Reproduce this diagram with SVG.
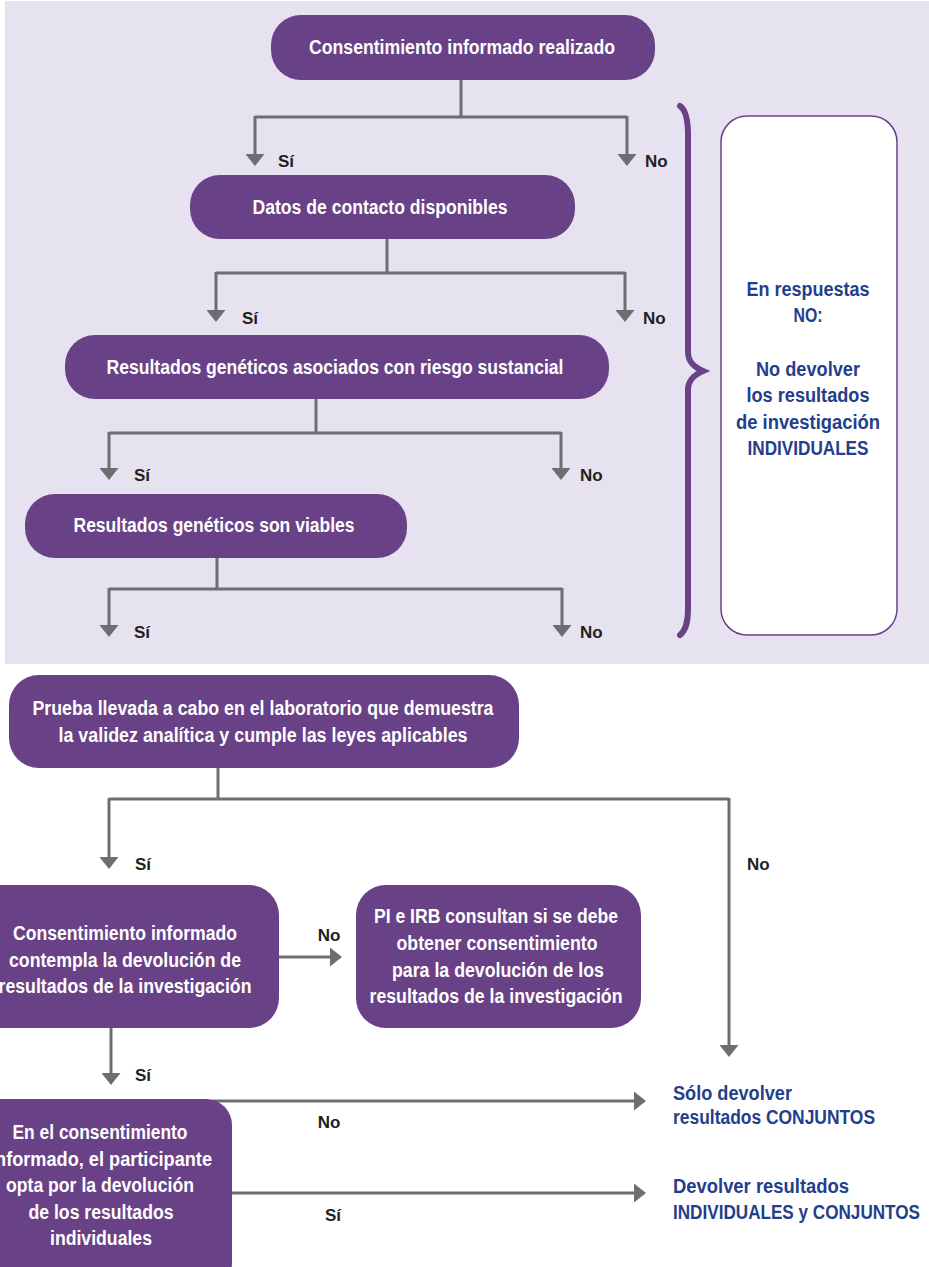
<svg xmlns="http://www.w3.org/2000/svg" width="929" height="1267" viewBox="0 0 929 1267">
<defs>
<style>
.node{fill:#694186;}
.nt{font-family:"Liberation Sans",Arial,sans-serif;font-weight:bold;font-size:20px;fill:#ffffff;text-anchor:middle;}
.lbl{font-family:"Liberation Sans",Arial,sans-serif;font-weight:bold;font-size:17px;fill:#231f20;}
.lblm{text-anchor:middle;}
.blue{font-family:"Liberation Sans",Arial,sans-serif;font-weight:bold;font-size:20px;fill:#233e8b;}
.conn{fill:none;stroke:#6d6e71;stroke-width:3;}
.arr{stroke:#6d6e71;stroke-width:3;marker-end:url(#ah);}
</style>
<marker id="ah" viewBox="0 0 12 19" refX="0" refY="9.5" markerWidth="12" markerHeight="19" markerUnits="userSpaceOnUse" orient="auto">
<path d="M0,0 L12,9.5 L0,19 Z" fill="#6d6e71"/>
</marker>
</defs>
<rect x="5" y="1" width="924" height="663" fill="#e6e2ef"/>

<g id="connectors">
<path class="conn" d="M461,80 V117 M255,117 H627"/>
<line class="arr" x1="255" y1="116" x2="255" y2="154"/>
<line class="arr" x1="627" y1="116" x2="627" y2="154"/>
<path class="conn" d="M387,239 V273 M216,273 H625"/>
<line class="arr" x1="216" y1="272" x2="216" y2="310"/>
<line class="arr" x1="625" y1="272" x2="625" y2="310"/>
<path class="conn" d="M316,399 V433 M109,433 H561"/>
<line class="arr" x1="109" y1="432" x2="109" y2="468"/>
<line class="arr" x1="561" y1="432" x2="561" y2="468"/>
<path class="conn" d="M217,558 V589 M109,589 H562"/>
<line class="arr" x1="109" y1="588" x2="109" y2="625"/>
<line class="arr" x1="562" y1="588" x2="562" y2="625"/>
<path class="conn" d="M218,768 V799 M109,799 H729"/>
<line class="arr" x1="109" y1="798" x2="109" y2="857"/>
<line class="arr" x1="729" y1="798" x2="729" y2="1045"/>
<line class="arr" x1="279" y1="957" x2="330" y2="957"/>
<line class="arr" x1="111" y1="1028" x2="111" y2="1073"/>
<line class="arr" x1="213" y1="1101" x2="634" y2="1101"/>
<line class="arr" x1="225" y1="1193" x2="634" y2="1193"/>
</g>

<g id="labels">
<text class="lbl" x="278" y="167">Sí</text>
<text class="lbl" x="645" y="167">No</text>
<text class="lbl" x="242" y="324">Sí</text>
<text class="lbl" x="643" y="324">No</text>
<text class="lbl" x="134" y="481">Sí</text>
<text class="lbl" x="580" y="481">No</text>
<text class="lbl" x="134" y="638">Sí</text>
<text class="lbl" x="580" y="638">No</text>
<text class="lbl" x="135" y="870">Sí</text>
<text class="lbl" x="747" y="870">No</text>
<text class="lbl lblm" x="329" y="941">No</text>
<text class="lbl" x="135" y="1081">Sí</text>
<text class="lbl lblm" x="329" y="1128">No</text>
<text class="lbl lblm" x="333" y="1221">Sí</text>
</g>

<g id="node1">
<rect class="node" x="271" y="15" width="384" height="65" rx="30"/>
<text class="nt" x="462" y="54" textLength="306" lengthAdjust="spacingAndGlyphs">Consentimiento informado realizado</text>
</g>
<g id="node2">
<rect class="node" x="190" y="175" width="385" height="64" rx="30"/>
<text class="nt" x="380" y="214" textLength="255" lengthAdjust="spacingAndGlyphs">Datos de contacto disponibles</text>
</g>
<g id="node3">
<rect class="node" x="65" y="335" width="544" height="64" rx="30"/>
<text class="nt" x="335" y="374" textLength="457" lengthAdjust="spacingAndGlyphs">Resultados genéticos asociados con riesgo sustancial</text>
</g>
<g id="node4">
<rect class="node" x="25" y="494" width="382" height="64" rx="30"/>
<text class="nt" x="214" y="532" textLength="281" lengthAdjust="spacingAndGlyphs">Resultados genéticos son viables</text>
</g>

<g id="brace">
<path d="M680,106 C686,110 688,120 688,135 L688,352 C688,362 694,367 703,371 C694,375 688,380 688,390 L688,608 C688,622 686,630 680,635" fill="none" stroke="#694186" stroke-width="6" stroke-linecap="round"/>
</g>
<g id="note">
<rect x="721" y="116" width="176" height="519" rx="26" fill="#ffffff" stroke="#694186" stroke-width="1.5"/>
<text class="blue" text-anchor="middle" x="808" y="296" textLength="123" lengthAdjust="spacingAndGlyphs">En respuestas</text>
<text class="blue" text-anchor="middle" x="808" y="322" textLength="29" lengthAdjust="spacingAndGlyphs">NO:</text>
<text class="blue" text-anchor="middle" x="808" y="376" textLength="104" lengthAdjust="spacingAndGlyphs">No devolver</text>
<text class="blue" text-anchor="middle" x="808" y="402" textLength="123" lengthAdjust="spacingAndGlyphs">los resultados</text>
<text class="blue" text-anchor="middle" x="808" y="429" textLength="144" lengthAdjust="spacingAndGlyphs">de investigación</text>
<text class="blue" text-anchor="middle" x="808" y="455" textLength="121" lengthAdjust="spacingAndGlyphs">INDIVIDUALES</text>
</g>

<g id="node5">
<rect class="node" x="9" y="675" width="510" height="93" rx="30"/>
<text class="nt" x="263" y="715" textLength="461" lengthAdjust="spacingAndGlyphs">Prueba llevada a cabo en el laboratorio que demuestra</text>
<text class="nt" x="263" y="742" textLength="409" lengthAdjust="spacingAndGlyphs">la validez analítica y cumple las leyes aplicables</text>
</g>
<g id="node6">
<rect class="node" x="-30" y="885" width="309" height="143" rx="30"/>
<text class="nt" x="125" y="940" textLength="224" lengthAdjust="spacingAndGlyphs">Consentimiento informado</text>
<text class="nt" x="125" y="967" textLength="232" lengthAdjust="spacingAndGlyphs">contempla la devolución de</text>
<text class="nt" x="125" y="993" textLength="253" lengthAdjust="spacingAndGlyphs">resultados de la investigación</text>
</g>
<g id="node7">
<rect class="node" x="356" y="885" width="285" height="143" rx="30"/>
<text class="nt" x="496" y="923" textLength="244" lengthAdjust="spacingAndGlyphs">PI e IRB consultan si se debe</text>
<text class="nt" x="497" y="950" textLength="201" lengthAdjust="spacingAndGlyphs">obtener consentimiento</text>
<text class="nt" x="498" y="977" textLength="212" lengthAdjust="spacingAndGlyphs">para la devolución de los</text>
<text class="nt" x="496" y="1003" textLength="253" lengthAdjust="spacingAndGlyphs">resultados de la investigación</text>
</g>
<g id="node8">
<rect class="node" x="-30" y="1099" width="262" height="190" rx="26"/>
<text class="nt" x="100" y="1139" textLength="175" lengthAdjust="spacingAndGlyphs">En el consentimiento</text>
<text class="nt" x="101" y="1166" textLength="222" lengthAdjust="spacingAndGlyphs">informado, el participante</text>
<text class="nt" x="100" y="1192" textLength="188" lengthAdjust="spacingAndGlyphs">opta por la devolución</text>
<text class="nt" x="101" y="1219" textLength="145" lengthAdjust="spacingAndGlyphs">de los resultados</text>
<text class="nt" x="101" y="1245" textLength="102" lengthAdjust="spacingAndGlyphs">individuales</text>
</g>
<g id="out1">
<text class="blue" x="673" y="1100" textLength="119" lengthAdjust="spacingAndGlyphs">Sólo devolver</text>
<text class="blue" x="673" y="1124" textLength="202" lengthAdjust="spacingAndGlyphs">resultados CONJUNTOS</text>
</g>
<g id="out2">
<text class="blue" x="673" y="1193" textLength="176" lengthAdjust="spacingAndGlyphs">Devolver resultados</text>
<text class="blue" x="673" y="1219" textLength="247" lengthAdjust="spacingAndGlyphs">INDIVIDUALES y CONJUNTOS</text>
</g>
</svg>
